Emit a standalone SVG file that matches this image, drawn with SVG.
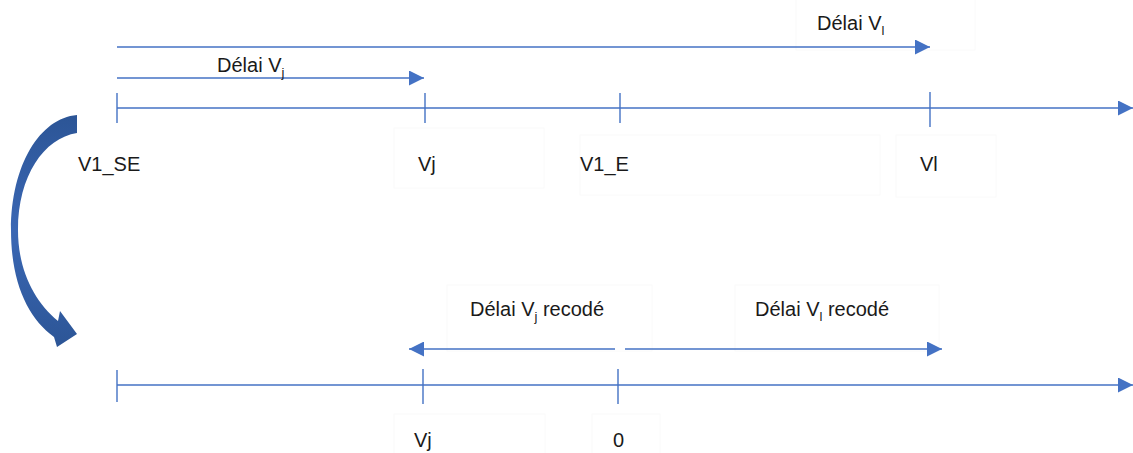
<svg xmlns="http://www.w3.org/2000/svg" width="1133" height="453" viewBox="0 0 1133 453">
  <style>
    .axis { stroke: #4472C4; stroke-width: 1.4; fill: none; }
    .tick { stroke: #4472C4; stroke-width: 1.4; }
    .delay { stroke: #4472C4; stroke-width: 1.6; fill: none; }
    .box { fill: none; stroke: #fafafa; stroke-width: 1; }
    .lbl { font-family: "Liberation Sans", Arial, sans-serif; font-size: 20px; fill: #1a1a1a; }
    .sub { font-size: 13px; }
  </style>
  <defs>
    <marker id="triBig" viewBox="0 0 10 10" refX="10" refY="5" markerWidth="18" markerHeight="15" markerUnits="userSpaceOnUse" orient="auto-start-reverse">
      <path d="M0,0 L10,5 L0,10 Z" fill="#4472C4"/>
    </marker>
    <linearGradient id="bend" x1="0" y1="0" x2="0" y2="1">
      <stop offset="0" stop-color="#2C5596"/>
      <stop offset="0.5" stop-color="#3A67B4"/>
      <stop offset="1" stop-color="#2C5596"/>
    </linearGradient>
  </defs>

  <!-- faint label frames -->
  <g id="frames">
    <rect class="box" x="796" y="-1" width="179" height="51"/>
    <rect class="box" x="580" y="135" width="300" height="60"/>
    <rect class="box" x="896" y="135" width="100" height="62"/>
    <rect class="box" x="394" y="128" width="150" height="60"/>
    <rect class="box" x="447" y="285" width="205" height="66"/>
    <rect class="box" x="735" y="285" width="204" height="66"/>
    <rect class="box" x="394" y="414" width="151" height="45"/>
    <rect class="box" x="592" y="414" width="68" height="45"/>
  </g>

  <!-- timelines with ticks -->
  <g id="axis-top">
    <line class="axis" x1="117" y1="108" x2="1133" y2="108" marker-end="url(#triBig)"/>
    <line class="tick" x1="117" y1="93" x2="117" y2="123"/>
    <line class="tick" x1="425" y1="93" x2="425" y2="123"/>
    <line class="tick" x1="620" y1="93" x2="620" y2="123"/>
    <line class="tick" x1="930" y1="92" x2="930" y2="127"/>
  </g>
  <g id="axis-bottom">
    <line class="axis" x1="117" y1="385" x2="1133" y2="385" marker-end="url(#triBig)"/>
    <line class="tick" x1="117" y1="370" x2="117" y2="402"/>
    <line class="tick" x1="423" y1="369" x2="423" y2="404"/>
    <line class="tick" x1="618" y1="369" x2="618" y2="404"/>
  </g>

  <!-- delay arrows -->
  <g id="connectors">
    <line class="delay" x1="117" y1="47" x2="930" y2="47" marker-end="url(#triBig)"/>
    <line class="delay" x1="117" y1="78" x2="424" y2="78" marker-end="url(#triBig)"/>
    <line class="delay" x1="615" y1="349" x2="409" y2="349" marker-end="url(#triBig)"/>
    <line class="delay" x1="625" y1="349" x2="942" y2="349" marker-end="url(#triBig)"/>
  </g>

  <!-- curved transfer arrow -->
  <g id="transfer">
    <path d="M77,115 C40,118 11,165 11,230 C11,283 28,318 54,337 L57,347 L77,334 L60,311 L58,321 C34,301 18,270 18,230 C18,176 44,138 77,133 Z" fill="url(#bend)"/>
  </g>

  <g id="labels-top">
    <text class="lbl" x="817" y="30">Délai V<tspan class="sub" dy="5">l</tspan></text>
    <text class="lbl" x="217" y="72">Délai V<tspan class="sub" dy="5">j</tspan></text>
    <text class="lbl" x="78" y="171">V1_SE</text>
    <text class="lbl" x="418" y="171">Vj</text>
    <text class="lbl" x="580" y="171">V1_E</text>
    <text class="lbl" x="920" y="171">Vl</text>
  </g>
  <g id="labels-bottom">
    <text class="lbl" x="470" y="316">Délai V<tspan class="sub" dy="5">j</tspan><tspan dy="-5"> recodé</tspan></text>
    <text class="lbl" x="755" y="316">Délai V<tspan class="sub" dy="5">l</tspan><tspan dy="-5"> recodé</tspan></text>
    <text class="lbl" x="414" y="447">Vj</text>
    <text class="lbl" x="613" y="447">0</text>
  </g>
</svg>
